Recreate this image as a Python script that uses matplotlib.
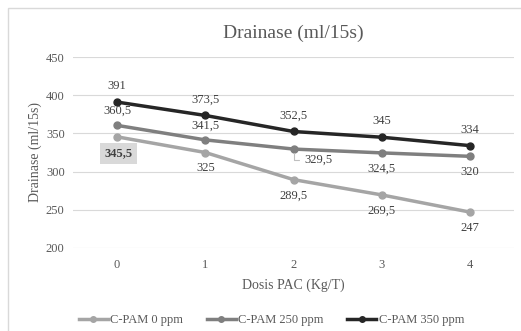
import matplotlib.pyplot as plt
from matplotlib.patches import Rectangle

plt.rcParams['font.family'] = ['Liberation Serif', 'DejaVu Serif']

dosis = [0, 1, 2, 3, 4]
cpam_0 = [345.5, 325, 289.5, 269.5, 247]
cpam_250 = [360.5, 341.5, 329.5, 324.5, 320]
cpam_350 = [391, 373.5, 352.5, 345, 334]
series_names = ["C-PAM 0 ppm", "C-PAM 250 ppm", "C-PAM 350 ppm"]
colors = ["#A5A5A5", "#7F7F7F", "#262626"]

fig = plt.figure(figsize=(5.21, 3.31), dpi=100)
fig.patches.append(Rectangle((8/521, -0.1), 1.2, 1 - 8/331 + 0.1, transform=fig.transFigure,
                             fill=False, edgecolor="#D9D9D9", linewidth=1))
ax = fig.add_axes([73/521, 1 - 248/331, 441/521, 191/331])

for vals, name, c in zip([cpam_0, cpam_250, cpam_350], series_names, colors):
	ax.plot(dosis, vals, color=c, linewidth=2.5, marker="o", markersize=5, label=name)

txt = dict(fontsize=9, color="#404040", ha="center")
# C-PAM 350 labels above
for x, v in zip(dosis, cpam_350):
	ax.annotate(f"{v:g}".replace(".", ","), (x, v), xytext=(0, 7), textcoords="offset points", va="bottom", **txt)
# C-PAM 250
offs250 = [(0, 6, "bottom"), (0, 6, "bottom"), None, (0, -7, "top"), (0, -7, "top")]
for x, v, o in zip(dosis, cpam_250, offs250):
	if o is None:
		continue
	ax.annotate(f"{v:g}".replace(".", ","), (x, v), xytext=(o[0], o[1]), textcoords="offset points", va=o[2], **txt)
ax.annotate("329,5", (dosis[2], cpam_250[2]), xytext=(8, -8), textcoords="offset points",
            va="center", ha="left", fontsize=9, color="#404040",
            arrowprops=dict(arrowstyle="-", color="#BFBFBF", linewidth=0.8,
                            connectionstyle="angle,angleA=0,angleB=90,rad=0", shrinkA=2, shrinkB=3))
# C-PAM 0
for x, v in zip(dosis[1:], cpam_0[1:]):
	ax.annotate(f"{v:g}".replace(".", ","), (x, v), xytext=(0, -7), textcoords="offset points", va="top", **txt)
ax.annotate("345,5", (dosis[0], cpam_0[0]), xytext=(1, -12), textcoords="offset points",
            va="center", ha="center", fontsize=9, color="#404040", fontweight="bold",
            bbox=dict(boxstyle="square,pad=0.35", facecolor="#D9D9D9", edgecolor="none"))

ax.set_xlim(-0.5, 4.5)
ax.set_ylim(200, 450)
ax.set_yticks([200, 250, 300, 350, 400, 450])
ax.set_xticks(dosis)
ax.grid(axis="y", color="#D9D9D9", linewidth=0.8)
ax.set_axisbelow(True)
for s in ax.spines.values():
	s.set_visible(False)
ax.tick_params(axis="x", length=0, labelsize=9, labelcolor="#595959", pad=8)
ax.tick_params(axis="y", length=0, labelsize=9, labelcolor="#595959", pad=6)

ax.set_title("Drainase (ml/15s)", fontsize=14, color="#595959", pad=14)
ax.set_xlabel("Dosis PAC (Kg/T)", fontsize=10, color="#595959", labelpad=5)
ax.set_ylabel("Drainase (ml/15s)", fontsize=10, color="#595959", labelpad=3)

fig.legend(loc="center", bbox_to_anchor=(0.521, 1 - 320/331), ncol=3, frameon=False,
           fontsize=9, handlelength=2.3, columnspacing=1.9, handletextpad=0.2,
           markerscale=0.8, labelcolor="#595959")

plt.savefig("out.png", dpi=100)
